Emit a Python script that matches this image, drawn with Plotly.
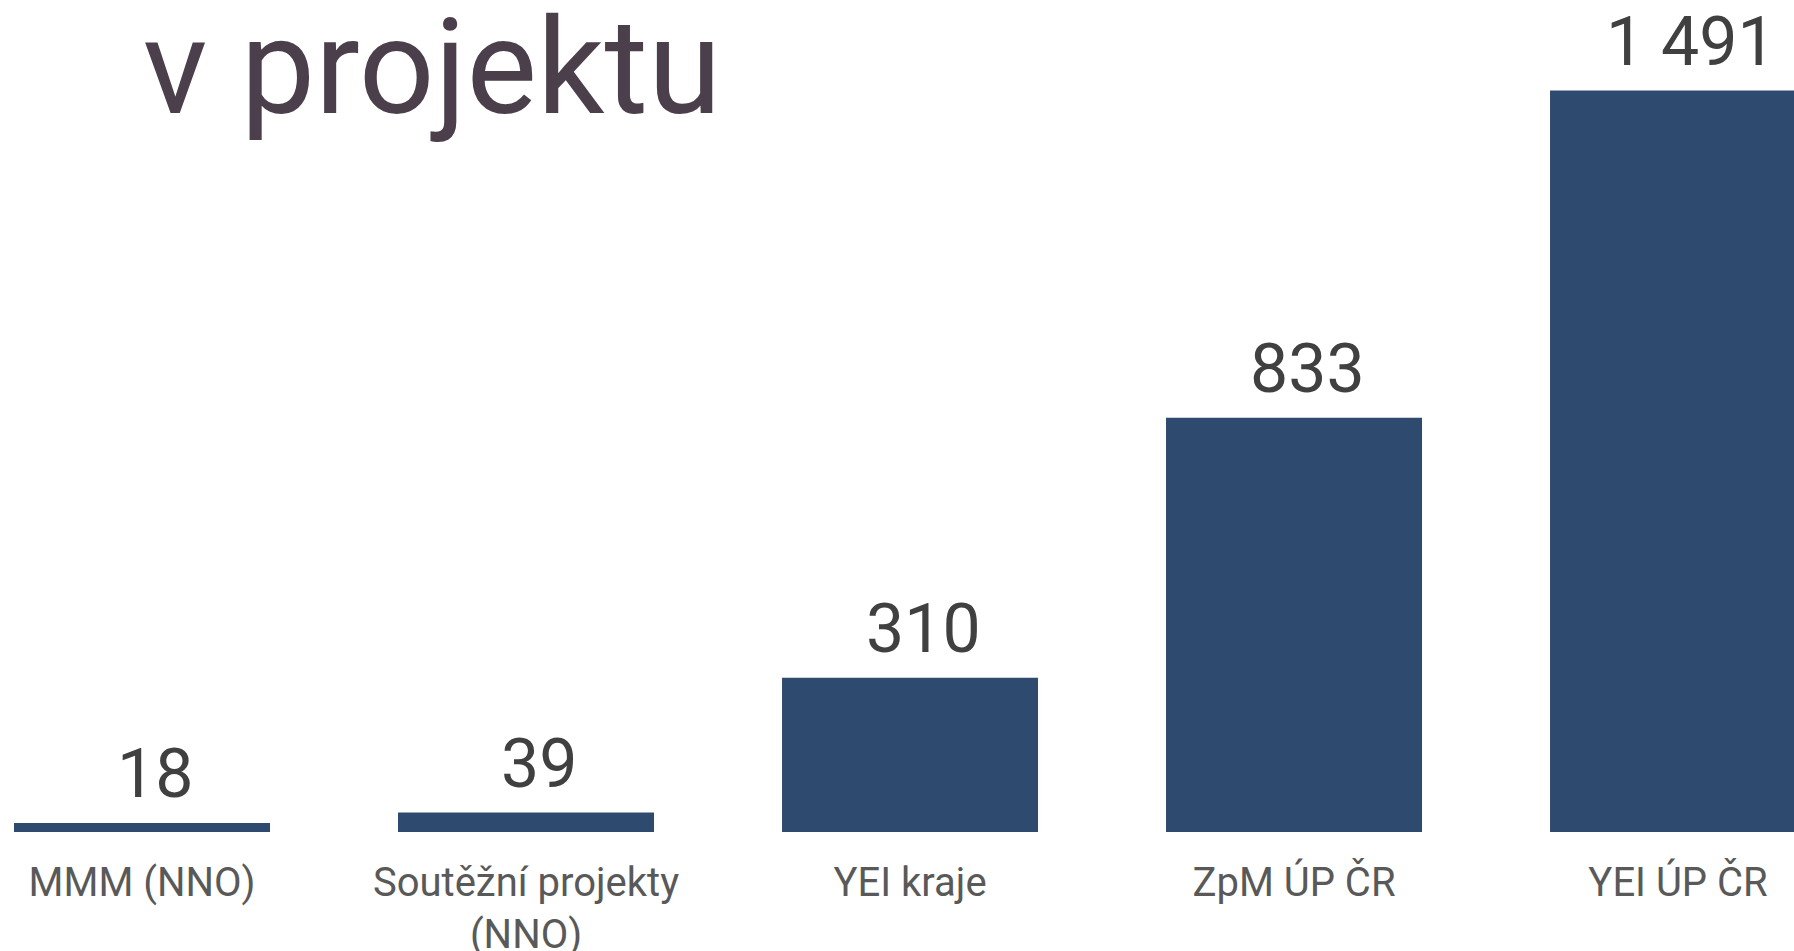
import plotly.graph_objects as go

categories = ["MMM (NNO)", "Soutěžní projekty<br>(NNO)", "YEI kraje", "ZpM ÚP ČR", "YEI ÚP ČR"]
values = [18, 39, 310, 833, 1491]
title_text = "v projektu"

BAR = "#2E4A6E"
FONT = "Roboto"

xs = list(range(len(categories)))

fig = go.Figure(
    go.Bar(
        x=xs,
        y=values,
        marker=dict(color=BAR, line=dict(width=0)),
        hoverinfo="skip",
    )
)

annotations = [
    dict(
        x=x, y=v, xref="x", yref="y",
        text=f"{v:,}".replace(",", " "),
        xanchor="center", yanchor="bottom", yshift=7, xshift=13,
        showarrow=False,
        font=dict(family=FONT, size=68, color="#404040"),
    )
    for x, v in zip(xs, values)
]
annotations.append(
    dict(
        text=title_text,
        xref="paper", yref="paper",
        x=0.0784, y=1 - 147 / 832,
        xanchor="left", yanchor="bottom",
        showarrow=False,
        font=dict(family=FONT, size=133, color="#4A3F4B"),
    )
)

fig.update_layout(
    width=1794,
    height=951,
    margin=dict(l=0, r=0, t=0, b=119, autoexpand=False),
    paper_bgcolor="white",
    plot_bgcolor="white",
    bargap=1/3,
    showlegend=False,
    xaxis=dict(
        range=[-0.3698, 4.302],
        tickmode="array",
        tickvals=xs,
        ticktext=categories,
        tickfont=dict(family=FONT, size=40, color="#595959"),
        ticklabelstandoff=23,
        automargin=False,
        showgrid=False,
        zeroline=False,
        showline=False,
        ticks="",
    ),
    yaxis=dict(
        range=[0, 1673],
        visible=False,
        automargin=False,
        showgrid=False,
        zeroline=False,
    ),
    annotations=annotations,
)

fig.write_html(
    "out.html",
    config={"displayModeBar": False},
    post_script="document.body.style.margin='0';window.scrollTo(0,0);",
)
